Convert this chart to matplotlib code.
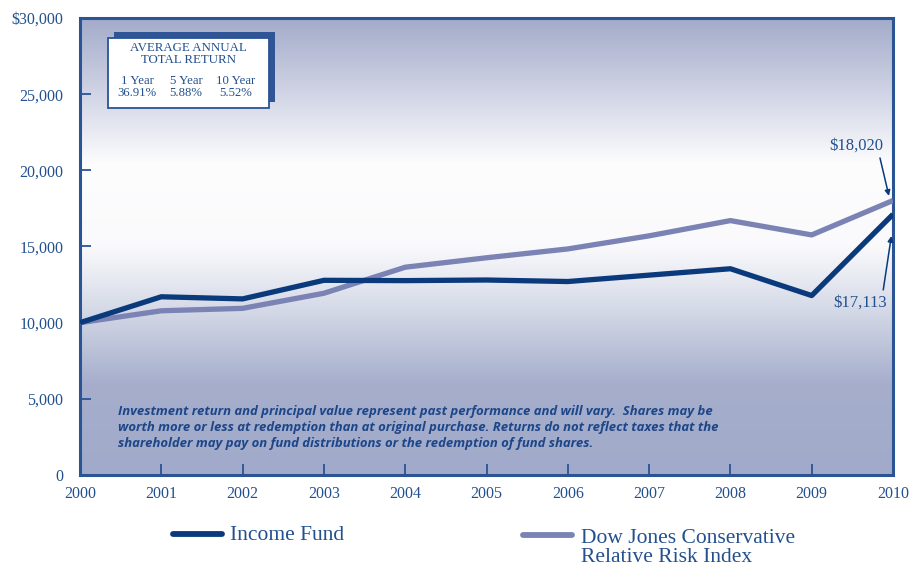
import matplotlib
matplotlib.use('Agg')
import matplotlib.pyplot as plt
from matplotlib.colors import to_rgb
from matplotlib.patches import Rectangle
from matplotlib.lines import Line2D
import numpy as np

years = [2000, 2001, 2002, 2003, 2004, 2005, 2006, 2007, 2008, 2009, 2010]
income_fund = [10000, 11700, 11560, 12780, 12760, 12800, 12700, 13120, 13540, 11780, 17113]
dow_jones = [10000, 10780, 10940, 11930, 13640, 14260, 14840, 15700, 16700, 15760, 18020]

yticks = [0, 5000, 10000, 15000, 20000, 25000, 30000]
ytick_labels = ['0', '5,000', '10,000', '15,000', '20,000', '25,000', '$30,000']

return_periods = ['1 Year', '5 Year', '10 Year']
return_values = ['36.91%', '5.88%', '5.52%']

navy = '#0b3a7c'
lavender = '#7a83b3'
frame_blue = '#2a5494'
text_blue = '#23508e'
serif = ['Liberation Serif', 'DejaVu Serif']

fig = plt.figure(figsize=(9.15, 5.72), dpi=100)
ax = fig.add_axes([80 / 915, 1 - 475 / 572, 813 / 915, 457 / 572])

# background shading, stops measured from the top of the plot area downwards
stops = [0.0, 0.12, 0.32, 0.50, 0.62, 0.80, 1.0]
stop_colors = ['#a3abc9', '#c4c9de', '#fdfdfe', '#fafafc', '#dadeea', '#a6aecc', '#a1aaca']
depth = np.linspace(0, 1, 400)
rgb = np.array([to_rgb(c) for c in stop_colors])
shade = np.stack([np.interp(depth, stops, rgb[:, k]) for k in range(3)], axis=-1)
# row 0 of the image sits at y=0 with origin='lower', so flip so the top stop is at 30,000
shade = shade[::-1].reshape(-1, 1, 3)
ax.imshow(shade, aspect='auto', extent=[2000, 2010, 0, 30000], origin='lower',
          interpolation='bilinear', zorder=0)

ax.plot(years, dow_jones, color=lavender, lw=3.8, solid_capstyle='butt', zorder=3)
ax.plot(years, income_fund, color=navy, lw=3.8, solid_capstyle='butt', zorder=4)

ax.set_xlim(2000, 2010)
ax.set_ylim(0, 30000)
ax.set_xticks(years)
ax.set_xticklabels([str(y) for y in years], fontfamily=serif, fontsize=11.5, color=text_blue)
ax.set_yticks(yticks)
ax.set_yticklabels(ytick_labels, fontfamily=serif, fontsize=11.5, color=text_blue)
ax.tick_params(axis='both', direction='in', length=8, width=1.3, color=frame_blue)
ax.tick_params(axis='x', pad=8)
ax.tick_params(axis='y', pad=12)
for s in ax.spines.values():
    s.set_color(frame_blue)
    s.set_linewidth(2.2)

# end-value callouts
ax.text(2009.55, 21600, '$18,020', fontfamily=serif, fontsize=12, color=text_blue,
        ha='center', va='center', zorder=6)
ax.annotate('', xy=(2009.95, 18320), xytext=(2009.84, 20810),
            arrowprops=dict(arrowstyle='-|>', color=navy, lw=1.1, mutation_scale=8,
                            shrinkA=0, shrinkB=0), zorder=6)
ax.text(2009.6, 11300, '$17,113', fontfamily=serif, fontsize=12, color=text_blue,
        ha='center', va='center', zorder=6)
ax.annotate('', xy=(2009.98, 15690), xytext=(2009.88, 12150),
            arrowprops=dict(arrowstyle='-|>', color=navy, lw=1.1, mutation_scale=8,
                            shrinkA=0, shrinkB=0), zorder=6)

# average annual total return box with offset shadow
bx0, by0 = 108 / 915, 1 - 108 / 572
bw, bh = 161 / 915, 70 / 572
fig.patches.append(Rectangle((bx0 + 6 / 915, by0 + 6 / 572), bw, bh, transform=fig.transFigure,
                             facecolor='#2f5596', edgecolor='none', zorder=5))
fig.patches.append(Rectangle((bx0, by0), bw, bh, transform=fig.transFigure,
                             facecolor='white', edgecolor=frame_blue, lw=1.3, zorder=6))
fig.text(bx0 + bw / 2, 1 - 54 / 572, 'AVERAGE ANNUAL\nTOTAL RETURN', ha='center', va='center',
         fontfamily=serif, fontsize=9.3, color=text_blue, linespacing=0.95, zorder=7)
col_x = [137, 186, 236]
for cx, per, val in zip(col_x, return_periods, return_values):
    fig.text(cx / 915, 1 - 87 / 572, per + '\n' + val, ha='center', va='center',
             fontfamily=serif, fontsize=9.2, color=text_blue, linespacing=0.95, zorder=7)

# disclaimer
ax.text(2000.47, 4620,
        'Investment return and principal value represent past performance and will vary.  Shares may be\n'
        'worth more or less at redemption than at original purchase. Returns do not reflect taxes that the\n'
        'shareholder may pay on fund distributions or the redemption of fund shares.',
        ha='left', va='top', fontfamily=['Open Sans', 'DejaVu Sans'], fontsize=9.45,
        fontweight='bold', fontstyle='italic', color='#1d4688', linespacing=1.33, zorder=5)

# legend drawn beneath the axes
fig.add_artist(Line2D([173 / 915, 222 / 915], [1 - 534 / 572] * 2, transform=fig.transFigure,
                      color=navy, lw=4.2, solid_capstyle='round'))
fig.text(230 / 915, 1 - 535 / 572, 'Income Fund', ha='left', va='center',
         fontfamily=serif, fontsize=15.5, color=text_blue)
fig.add_artist(Line2D([523 / 915, 572 / 915], [1 - 535 / 572] * 2, transform=fig.transFigure,
                      color=lavender, lw=4.2, solid_capstyle='round'))
fig.text(581 / 915, 1 - 548 / 572, 'Dow Jones Conservative\nRelative Risk Index', ha='left',
         va='center', fontfamily=serif, fontsize=15.5, color=text_blue, linespacing=1.05)

fig.savefig('out.png', dpi=100)
